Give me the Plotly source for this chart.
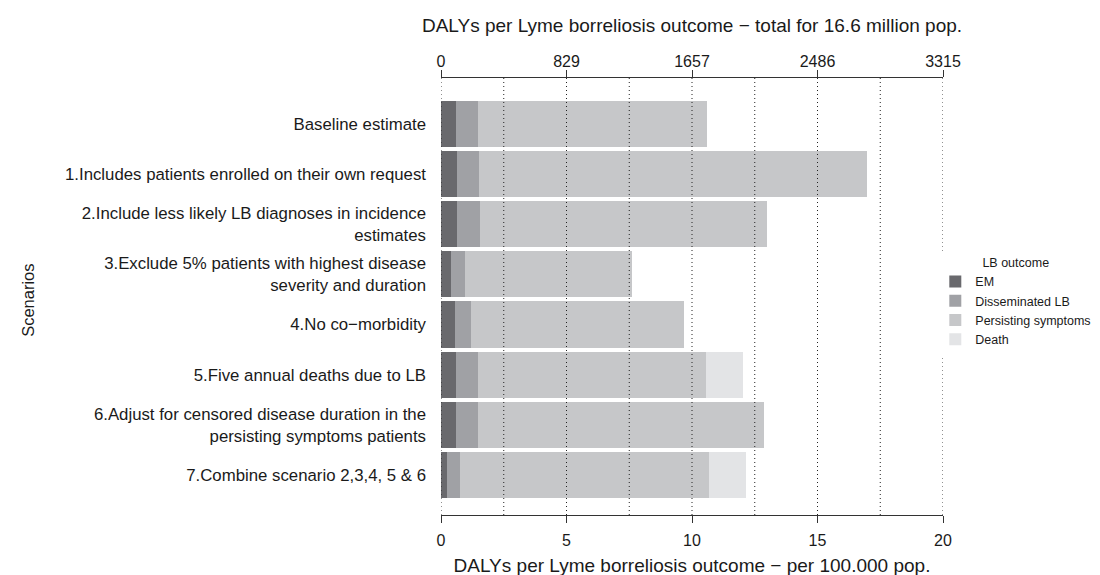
import plotly.graph_objects as go

scenarios = [
    "Baseline estimate",
    "1.Includes patients enrolled on their own request",
    "2.Include less likely LB diagnoses in incidence<br>estimates",
    "3.Exclude 5% patients with highest disease<br>severity and duration",
    "4.No co\u2212morbidity",
    "5.Five annual deaths due to LB",
    "6.Adjust for censored disease duration in the<br>persisting symptoms patients",
    "7.Combine scenario 2,3,4, 5 & 6",
]
em = [0.60, 0.64, 0.64, 0.40, 0.56, 0.60, 0.60, 0.24]
disseminated = [0.87, 0.87, 0.91, 0.56, 0.64, 0.87, 0.87, 0.52]
persisting = [9.11, 15.46, 11.44, 6.64, 8.48, 9.09, 11.40, 9.92]
death = [0.0, 0.0, 0.0, 0.0, 0.0, 1.47, 0.0, 1.47]

outcomes = ["EM", "Disseminated LB", "Persisting symptoms", "Death"]
colors = ["#69696d", "#a0a1a5", "#c6c7c9", "#e3e4e6"]
series = [em, disseminated, persisting, death]

bottom_ticks = [0, 5, 10, 15, 20]
top_tick_labels = ["0", "829", "1657", "2486", "3315"]
grid_vals = [0, 2.5, 5, 7.5, 10, 12.5, 15, 17.5, 20]

FONT = "Liberation Sans, Arial, sans-serif"
TXT = "#1a1a1a"

fig = go.Figure()
for name, vals, col in zip(outcomes, series, colors):
    fig.add_trace(go.Bar(
        y=scenarios, x=vals, name=name, orientation="h",
        marker=dict(color=col, line=dict(width=0)),
    ))

# invisible trace to activate the top axis
fig.add_trace(go.Scatter(
    x=[0, 20], y=[scenarios[0], scenarios[0]], xaxis="x2", mode="markers",
    marker=dict(opacity=0), showlegend=False, hoverinfo="skip",
))

shapes = [
    dict(type="line", xref="x", yref="paper", x0=v, x1=v, y0=0, y1=1,
         layer="above", line=dict(color="#222222", width=1, dash="1px,3px"))
    for v in grid_vals
]

fig.update_layout(
    width=1100, height=575,
    margin=dict(l=433, r=165, t=70, b=68, autoexpand=False),
    paper_bgcolor="white", plot_bgcolor="white",
    barmode="stack", bargap=0.08,
    font=dict(family=FONT, size=16, color=TXT),
    shapes=shapes,
    xaxis=dict(
        range=[0, 20], tickvals=bottom_ticks, showgrid=False, zeroline=False,
        showline=True, linecolor="#333333", linewidth=1, automargin=False,
        ticks="outside", ticklen=7, tickcolor="#333333",
        tickfont=dict(size=16), ticklabelstandoff=4,
        title=dict(text="DALYs per Lyme borreliosis outcome \u2212 per 100.000 pop.",
                   font=dict(size=19), standoff=10),
    ),
    xaxis2=dict(
        overlaying="x", side="top", range=[0, 20], tickvals=bottom_ticks,
        ticktext=top_tick_labels, showgrid=False, zeroline=False, automargin=False,
        showline=True, linecolor="#333333", linewidth=1,
        ticks="outside", ticklen=7, tickcolor="#333333",
        tickfont=dict(size=16), ticklabelstandoff=-3,
        title=dict(text="DALYs per Lyme borreliosis outcome \u2212 total for 16.6 million pop.",
                   font=dict(size=19), standoff=14),
    ),
    yaxis=dict(
        type="category", categoryorder="array", categoryarray=scenarios,
        range=[7.8, -0.917], showgrid=False, zeroline=False, showline=False,
        automargin=False, ticks="", ticklabelstandoff=14, tickfont=dict(size=16.8),
    ),
    legend=dict(
        xref="container", yref="container", x=0.843, y=0.578,
        xanchor="left", yanchor="top", traceorder="normal",
        font=dict(size=12.5), itemwidth=30,
        title=dict(text="LB outcome", font=dict(size=12.5), side="top center"),
        tracegroupgap=0,
    ),
    annotations=[dict(
        text="Scenarios", xref="paper", yref="paper", x=(20 - 433) / 502, y=0.49,
        textangle=-90, showarrow=False, font=dict(size=16.5), xanchor="center", yanchor="middle",
    )],
)

fig.write_html("out.html")
